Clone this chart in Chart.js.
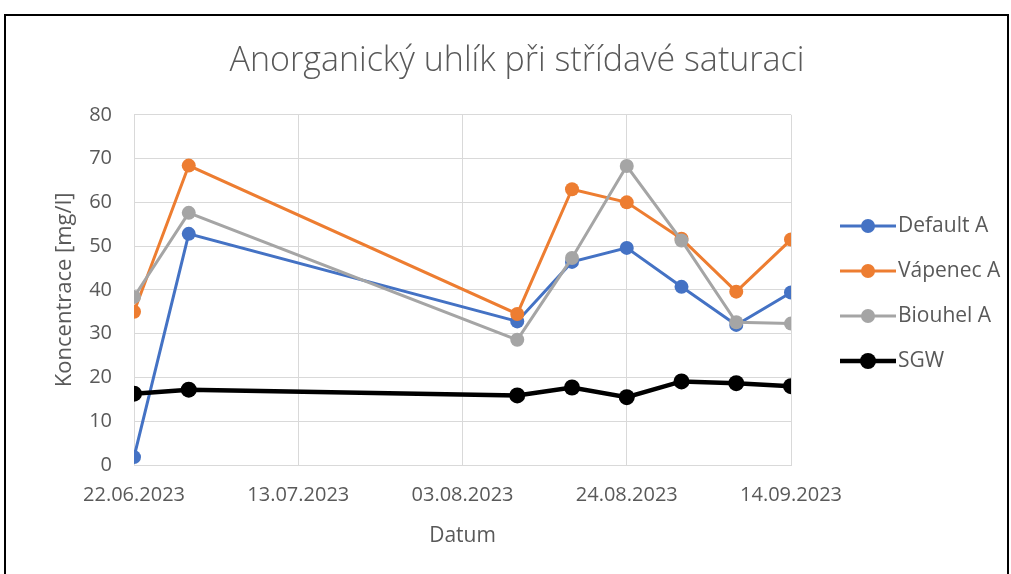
<!DOCTYPE html>
<html>
<head>
<meta charset="utf-8">
<script src="https://cdn.jsdelivr.net/npm/chart.js@4"></script>
<style>
  html, body { margin: 0; padding: 0; background: #fff; }
  #wrap { position: relative; width: 1011px; height: 574px; overflow: hidden; }
  #frame { position: absolute; left: 4px; top: 14px; width: 1001px; height: 600px; border: 2px solid #000; }
  canvas { position: absolute; left: 0; top: 0; }
</style>
</head>
<body>
<div id="wrap">
  <div id="frame"></div>
  <canvas id="carbonChart" width="1011" height="574"></canvas>
</div>
<script>
// Sampling dates and measured values
const sampleDates = [
    '2023-06-22', '2023-06-29', '2023-08-10', '2023-08-17',
    '2023-08-24', '2023-08-31', '2023-09-07', '2023-09-14'
];
const defaultA = [1.8, 52.8, 32.8, 46.4, 49.6, 40.7, 32.0, 39.4];
const vapenecA = [35.0, 68.4, 34.5, 63.0, 60.0, 51.7, 39.6, 51.5];
const biouhelA = [38.4, 57.6, 28.6, 47.3, 68.3, 51.3, 32.6, 32.3];
const sgw = [16.3, 17.2, 15.9, 17.7, 15.5, 19.1, 18.7, 18.0];

const startDate = '2023-06-22';
const endDate = '2023-09-14';

const DAY = 24 * 60 * 60 * 1000;
const dayOf = (s) => Math.round((Date.parse(s) - Date.parse(startDate)) / DAY);
const fmtDay = (d) => {
    const dt = new Date(Date.parse(startDate) + d * DAY);
    const dd = String(dt.getUTCDate()).padStart(2, '0');
    const mm = String(dt.getUTCMonth() + 1).padStart(2, '0');
    return dd + '.' + mm + '.' + dt.getUTCFullYear();
};
const toPoints = (vals) => vals.map((v, i) => ({ x: dayOf(sampleDates[i]), y: v }));

const FONT = "'Open Sans', 'Noto Sans', sans-serif";
const TEXT = '#595959';
const GRID = '#d9d9d9';

function series(label, vals, color, width, radius, order) {
    return {
        label: label,
        data: toPoints(vals),
        borderColor: color,
        backgroundColor: color,
        borderWidth: width,
        pointRadius: radius,
        pointHoverRadius: radius,
        pointBorderWidth: 0,
        tension: 0,
        order: order
    };
}

// legend drawn beside the plot, Excel style (line with marker)
const sideLegend = {
    id: 'sideLegend',
    afterDraw(chart) {
        const ctx = chart.ctx;
        ctx.save();
        chart.data.datasets.forEach((ds, i) => {
            const y = 226 + i * 45;
            ctx.strokeStyle = ds.borderColor;
            ctx.lineWidth = ds.borderWidth;
            ctx.beginPath();
            ctx.moveTo(840, y);
            ctx.lineTo(896, y);
            ctx.stroke();
            ctx.fillStyle = ds.backgroundColor;
            ctx.beginPath();
            ctx.arc(868, y, ds.pointRadius, 0, Math.PI * 2);
            ctx.fill();
            ctx.fillStyle = TEXT;
            ctx.font = '21px ' + FONT;
            ctx.textAlign = 'left';
            ctx.textBaseline = 'middle';
            ctx.fillText(ds.label, 898, y);
        });
        ctx.restore();
    }
};

const carbonConfig = {
    type: 'line',
    data: {
        datasets: [
            series('Default A', defaultA, '#4472C4', 3, 7, 4),
            series('Vápenec A', vapenecA, '#ED7D31', 3, 7, 3),
            series('Biouhel A', biouhelA, '#A5A5A5', 3, 7, 2),
            series('SGW', sgw, '#000000', 4.5, 8, 1)
        ]
    },
    options: {
        responsive: false,
        animation: false,
        events: [],
        layout: { padding: { left: 23, right: 0, top: 0, bottom: 0 } },
        plugins: {
            legend: { display: false },
            tooltip: { enabled: false },
            title: {
                display: true,
                text: 'Anorganický uhlík při střídavé saturaci',
                color: TEXT,
                font: { family: FONT, size: 34, weight: 300 },
                padding: { top: 41, bottom: 33 }
            }
        },
        scales: {
            x: {
                type: 'linear',
                min: dayOf(startDate),
                max: dayOf(endDate),
                afterFit: (scale) => { scale.height = 109; },
                ticks: {
                    stepSize: 21,
                    color: TEXT,
                    font: { family: FONT, size: 20 },
                    padding: 18,
                    maxRotation: 0,
                    callback: (v) => fmtDay(v)
                },
                grid: { color: GRID, drawTicks: false },
                border: { color: GRID },
                title: {
                    display: true,
                    text: 'Datum',
                    color: TEXT,
                    font: { family: FONT, size: 21 },
                    padding: { top: 0, bottom: 25 }
                }
            },
            y: {
                min: 0,
                max: 80,
                afterFit: (scale) => { scale.width = 111; },
                ticks: {
                    stepSize: 10,
                    color: TEXT,
                    font: { family: FONT, size: 20 },
                    padding: 22
                },
                grid: { color: GRID, drawTicks: false },
                border: { color: GRID },
                title: {
                    display: true,
                    text: 'Koncentrace [mg/l]',
                    color: TEXT,
                    font: { family: FONT, size: 22 },
                    padding: { top: 29, bottom: 0 }
                }
            },
            // empty right-hand box that keeps room for the legend
            legendSpace: {
                position: 'right',
                afterFit: (scale) => { scale.width = 220; },
                ticks: { display: false },
                grid: { display: false },
                border: { display: false }
            }
        }
    },
    plugins: [sideLegend]
};

const carbonChart = new Chart(
    document.getElementById('carbonChart'),
    carbonConfig
);
</script>
</body>
</html>
